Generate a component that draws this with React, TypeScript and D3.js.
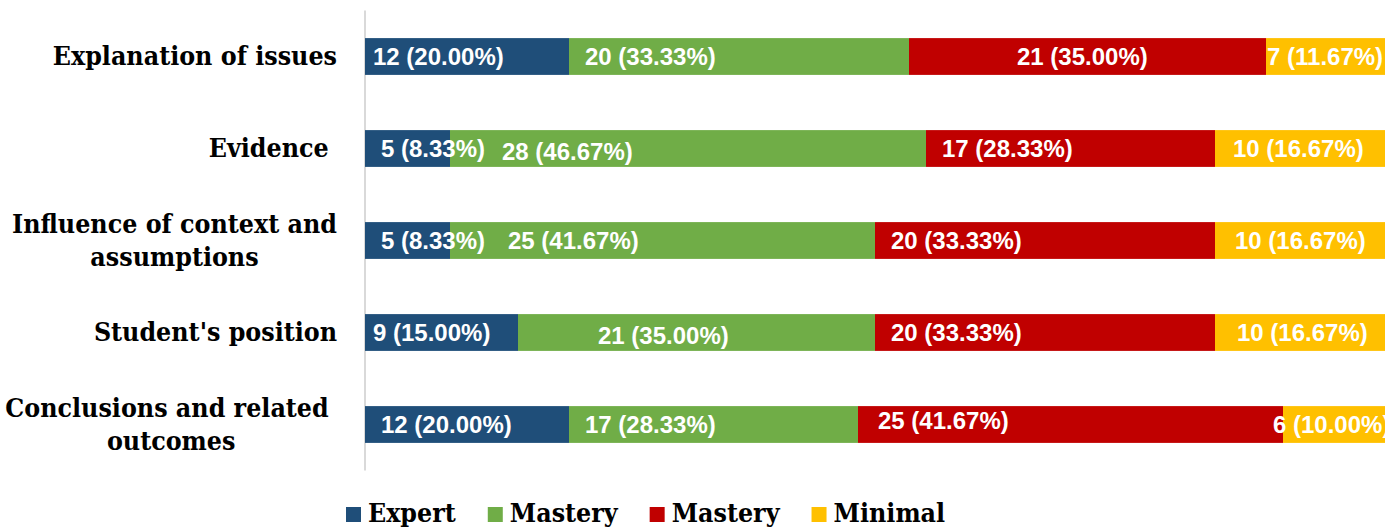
import React, { useEffect, useRef } from 'react';
import * as d3 from 'd3';

// ---- data ----
const categories = [
  'Explanation of issues',
  'Evidence ',
  'Influence of context and\nassumptions',
  "Student's position",
  'Conclusions and related \noutcomes',
];
const seriesNames = ['Expert', 'Mastery', 'Mastery', 'Minimal'];
const expert = [12, 5, 5, 9, 12];
const masteryGreen = [20, 28, 25, 21, 17];
const masteryRed = [21, 17, 20, 20, 25];
const minimal = [7, 10, 10, 10, 6];

// ---- styles / label nudges (px) ----
const colors = ['#1F4E79', '#70AD47', '#C00000', '#FFC000'];
const labelDx = [
  [-8, 0, 92, -15],
  [0, 36, 0, 2],
  [0, 42, 0, 4],
  [-8, 64, 0, 6],
  [0, 0, 4, -26],
];
const labelDy = [
  [0, 0, 0, 0],
  [0, 3, 0, 0],
  [0, 0, 0, 0],
  [0, 3, 0, 0],
  [0, 0, -4, 0],
];

const W = 1398;
const H = 529;
const serif = "'DejaVu Serif Condensed', 'DejaVu Serif', serif";
const sans = "'Liberation Sans', Arial, sans-serif";
const serifSize = 26.5;

export default function App() {
  const ref = useRef<SVGSVGElement | null>(null);

  useEffect(() => {
    const svg = d3.select(ref.current);
    svg.selectAll('*').remove();

    const rows = categories.map((c, i) => ({
      cat: c,
      v: [expert[i], masteryGreen[i], masteryRed[i], minimal[i]],
    }));
    const total = d3.max(rows, (r) => d3.sum(r.v)) as number;

    const x = d3.scaleLinear().domain([0, total]).range([365, 1385]);
    const y = d3
      .scaleBand<string>()
      .domain(categories)
      .range([10.5, 470.5])
      .paddingInner(0.6)
      .paddingOuter(0.3);

    const stack = d3
      .stack<any, number>()
      .keys([0, 1, 2, 3])
      .value((d: any, k: number) => d.v[k]);
    const layers = stack(rows as any);

    // axis line
    svg
      .append('line')
      .attr('x1', x(0))
      .attr('x2', x(0))
      .attr('y1', y.range()[0])
      .attr('y2', y.range()[1])
      .attr('stroke', '#d9d9d9')
      .attr('stroke-width', 2);

    // bars
    layers.forEach((layer, k) => {
      svg
        .append('g')
        .selectAll('rect')
        .data(layer)
        .join('rect')
        .attr('x', (d: any) => x(d[0]))
        .attr('width', (d: any) => x(d[1]) - x(d[0]))
        .attr('y', (d: any) => y(d.data.cat) as number)
        .attr('height', y.bandwidth())
        .attr('fill', colors[k]);
    });

    // value labels
    svg
      .append('clipPath')
      .attr('id', 'plotclip')
      .append('rect')
      .attr('x', 0)
      .attr('y', 0)
      .attr('width', x.range()[1] + 1)
      .attr('height', H);
    const lg = svg.append('g').attr('clip-path', 'url(#plotclip)');
    layers.forEach((layer, k) => {
      layer.forEach((d: any, i: number) => {
        const val = d.data.v[k];
        const tot = d3.sum(d.data.v);
        const cy = (y(d.data.cat) as number) + y.bandwidth() / 2;
        lg.append('text')
          .attr('x', x(d[0]) + 16 + labelDx[i][k])
          .attr('y', cy + 8.5 + labelDy[i][k])
          .attr('fill', '#ffffff')
          .attr('font-family', sans)
          .attr('font-weight', 'bold')
          .attr('font-size', 24)
          .text(`${val} (${((val / tot) * 100).toFixed(2)}%)`);
      });
    });

    // category labels
    const right = 337;
    categories.forEach((c) => {
      const lines = c.split('\n');
      const cy = (y(c) as number) + y.bandwidth() / 2;
      const g = svg.append('g');
      const lineH = 33;
      const texts = lines.map((ln, j) =>
        g
          .append('text')
          .attr('xml:space', 'preserve')
          .style('white-space', 'pre')
          .attr('font-family', serif)
          .attr('font-weight', 'bold')
          .attr('font-size', serifSize)
          .attr('fill', '#000')
          .attr('text-anchor', 'middle')
          .attr('y', cy + 8.5 + (j - (lines.length - 1) / 2) * lineH)
          .text(ln)
      );
      const widths = texts.map((t) => (t.node() as SVGTextElement).getComputedTextLength());
      const mw = d3.max(widths) as number;
      texts.forEach((t) => t.attr('x', right - mw / 2));
    });

    // legend
    let lx = 346;
    const ly = 507;
    seriesNames.forEach((name, k) => {
      svg
        .append('rect')
        .attr('x', lx)
        .attr('y', ly)
        .attr('width', 15)
        .attr('height', 15)
        .attr('fill', colors[k]);
      const t = svg
        .append('text')
        .attr('x', lx + 22)
        .attr('y', ly + 15)
        .attr('font-family', serif)
        .attr('font-weight', 'bold')
        .attr('font-size', serifSize)
        .attr('fill', '#000')
        .text(name);
      const w = (t.node() as SVGTextElement).getComputedTextLength();
      lx += 22 + w + 32;
    });
  }, []);

  return (
    <svg
      ref={ref}
      width={W}
      height={H}
      style={{ position: 'absolute', left: 0, top: 0, background: '#fff' }}
    />
  );
}
